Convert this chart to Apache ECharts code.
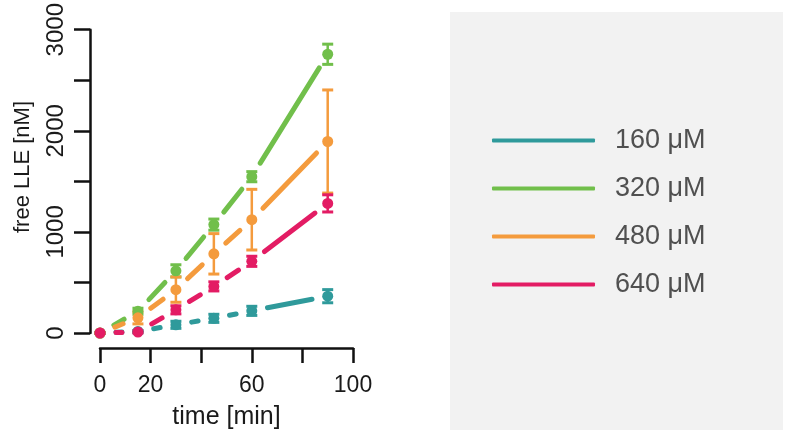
<!DOCTYPE html>
<html>
<head>
<meta charset="utf-8">
<script src="https://cdn.jsdelivr.net/npm/echarts@6/dist/echarts.min.js"></script>
<style>
html,body{margin:0;padding:0;background:#fff;}
#chart{width:785px;height:435px;}
</style>
</head>
<body>
<div id="chart"></div>
<script>
// ---- data ----
var times = [0, 15, 30, 45, 60, 90];
var seriesNames = ['160 \u03bcM', '320 \u03bcM', '480 \u03bcM', '640 \u03bcM'];
var c160 = [0, 15, 81, 145, 219, 364];
var e160 = [0, 10, 35, 40, 45, 65];
var c320 = [0, 215, 615, 1072, 1546, 2757];
var e320 = [0, 30, 60, 55, 50, 100];
var c480 = [0, 150, 429, 783, 1121, 1894];
var e480 = [0, 60, 125, 200, 300, 510];
var c640 = [0, 10, 229, 461, 709, 1282];
var e640 = [0, 10, 40, 45, 50, 85];
var xTickLabels = [0, 20, 60, 100];
var yTickLabels = [0, 1000, 2000, 3000];

var values = [c160, c320, c480, c640];
var errors = [e160, e320, e480, e640];
var colors = ['#2f9a9b', '#71bf4b', '#f49b3d', '#e31c64'];

var FONT = '"Liberation Sans", Arial, Helvetica, sans-serif';
var GAP = 16;

function segData(v) {
  var out = [];
  for (var i = 0; i < times.length - 1; i++) {
    out.push([times[i], v[i], times[i + 1], v[i + 1]]);
  }
  return out;
}

function makeSegRender(color) {
  return function (params, api) {
    var p1 = api.coord([api.value(0), api.value(1)]);
    var p2 = api.coord([api.value(2), api.value(3)]);
    var dx = p2[0] - p1[0], dy = p2[1] - p1[1];
    var len = Math.sqrt(dx * dx + dy * dy);
    if (len <= 2 * GAP + 2) return null;
    var ux = dx / len, uy = dy / len;
    return {
      type: 'line',
      shape: {
        x1: p1[0] + ux * GAP, y1: p1[1] + uy * GAP,
        x2: p2[0] - ux * GAP, y2: p2[1] - uy * GAP
      },
      style: { stroke: color, lineWidth: 5, lineCap: 'round' }
    };
  };
}

function makeErrRender(color) {
  return function (params, api) {
    var x = api.value(0), y = api.value(1), e = api.value(2);
    var hi = api.coord([x, y + e]);
    var lo = api.coord([x, y - e]);
    var w = 5.5;
    var st = { stroke: color, lineWidth: 2.5 };
    return {
      type: 'group',
      children: [
        { type: 'line', shape: { x1: hi[0], y1: hi[1], x2: lo[0], y2: lo[1] }, style: st },
        { type: 'line', shape: { x1: hi[0] - w, y1: hi[1], x2: hi[0] + w, y2: hi[1] }, style: { stroke: color, lineWidth: 3 } },
        { type: 'line', shape: { x1: lo[0] - w, y1: lo[1], x2: lo[0] + w, y2: lo[1] }, style: { stroke: color, lineWidth: 3 } }
      ]
    };
  };
}

var series = [];
for (var k = 0; k < values.length; k++) {
  var v = values[k], e = errors[k];
  series.push({
    name: seriesNames[k], type: 'custom', renderItem: makeSegRender(colors[k]),
    data: segData(v), encode: { x: [0, 2], y: [1, 3] }, itemStyle: { color: colors[k] },
    silent: true
  });
  series.push({
    name: seriesNames[k], type: 'custom', renderItem: makeErrRender(colors[k]),
    data: times.map(function (t, i) { return [t, v[i], e[i]]; }),
    encode: { x: 0, y: 1 }, itemStyle: { color: colors[k] }, silent: true
  });
  series.push({
    name: seriesNames[k], type: 'scatter', symbol: 'circle', symbolSize: 11,
    data: times.map(function (t, i) { return [t, v[i]]; }),
    itemStyle: { color: colors[k], opacity: 1 }, silent: true
  });
}

var chart = echarts.init(document.getElementById('chart'), null, { renderer: 'canvas' });
chart.setOption({
  animation: false,
  backgroundColor: '#ffffff',
  textStyle: { fontFamily: FONT },
  grid: { left: 100, right: 432, top: 27, bottom: 98, containLabel: false },
  xAxis: {
    type: 'value', min: 0, max: 100, interval: 20, offset: 15,
    name: 'time [min]', nameLocation: 'middle', nameGap: 57,
    nameTextStyle: { fontSize: 25, color: '#1a1a1a', fontFamily: FONT },
    axisLine: { show: true, onZero: false, lineStyle: { color: '#111', width: 2.5 } },
    axisTick: { show: true, length: 15, lineStyle: { color: '#111', width: 2.5 } },
    axisLabel: {
      margin: 26, fontSize: 23, color: '#1a1a1a', fontFamily: FONT,
      formatter: function (val) { return xTickLabels.indexOf(val) >= 0 ? String(val) : ''; }
    },
    splitLine: { show: false }
  },
  yAxis: {
    type: 'value', min: 0, max: 3000, interval: 500, offset: 10,
    axisLine: { show: true, onZero: false, lineStyle: { color: '#111', width: 2.5 } },
    axisTick: { show: true, length: 16, lineStyle: { color: '#111', width: 2.5 } },
    axisLabel: {
      rotate: 90, margin: 22, fontSize: 24, color: '#1a1a1a', fontFamily: FONT,
      formatter: function (val) { return yTickLabels.indexOf(val) >= 0 ? String(val) : ''; }
    },
    splitLine: { show: false }
  },
  legend: {
    orient: 'vertical', left: 492, top: 127, itemWidth: 103, itemHeight: 4, itemGap: 21,
    padding: 0, selectedMode: false, z: 5,
    textStyle: { fontSize: 27, color: '#505050', fontFamily: FONT, lineHeight: 26, padding: [0, 0, 0, 15] },
    data: seriesNames.map(function (n, i) {
      return { name: n, icon: 'roundRect', itemStyle: { color: colors[i] } };
    })
  },
  graphic: [
    { type: 'rect', left: 450, top: 12, shape: { width: 333, height: 418 }, style: { fill: '#f2f2f2' }, z: -10, silent: true },
    { type: 'text', x: 23, y: 167, rotation: Math.PI / 2, style: { text: 'free LLE [nM]', fill: '#1a1a1a', font: '22px ' + FONT, textAlign: 'center', textVerticalAlign: 'middle' }, silent: true }
  ],
  series: series
});
</script>
</body>
</html>
